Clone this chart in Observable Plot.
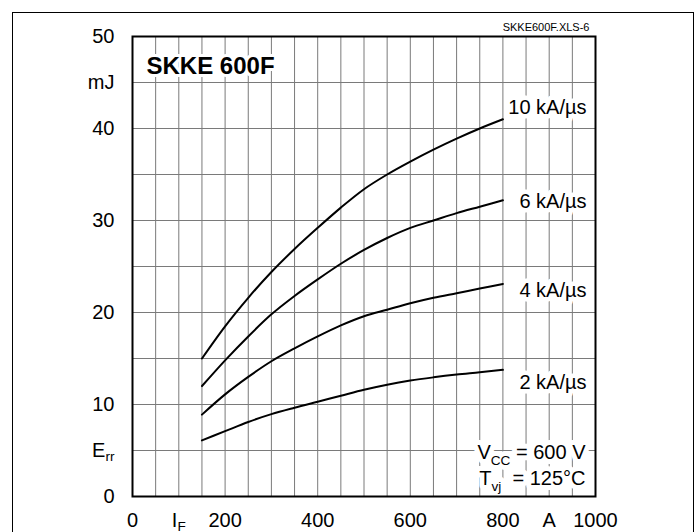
<!DOCTYPE html>
<html><head><meta charset="utf-8">
<script src="https://cdn.jsdelivr.net/npm/d3@7"></script>
<script src="https://cdn.jsdelivr.net/npm/@observablehq/plot@0.6"></script>
<style>
html,body{margin:0;padding:0;background:#fff;}
#wrap{position:relative;width:698px;height:532px;overflow:hidden;background:#fff;}
#border{position:absolute;left:12px;top:12px;width:680px;height:580px;border:1.5px solid #000;}
#chart{position:absolute;left:0;top:0;}
</style></head><body>
<div id="wrap"><div id="border"></div><div id="chart"></div></div>
<script>
// Forward current I_F (A)
const current = [150,200,250,300,350,400,450,500,550,600,650,700,750,800];
// Reverse recovery energy E_rr (mJ) per di/dt
const err10 = [15.0,18.5,21.6,24.4,26.9,29.2,31.4,33.4,35.0,36.4,37.7,38.9,40.0,41.0];
const err6  = [12.0,14.8,17.4,19.8,21.8,23.6,25.3,26.8,28.1,29.2,30.0,30.8,31.5,32.2];
const err4  = [8.9,11.1,13.0,14.7,16.1,17.4,18.6,19.6,20.3,21.0,21.6,22.1,22.6,23.1];
const err2  = [6.1,7.1,8.1,8.95,9.65,10.3,10.95,11.6,12.15,12.6,12.95,13.25,13.5,13.77];
const seriesNames = ["10 kA/µs","6 kA/µs","4 kA/µs","2 kA/µs"];
const labelY = [42.3,32.1,22.4,12.4];
const xTicks = [0,100,200,400,600,800,900,1000];
const xLabels = ["0","I_F","200","400","600","800","A","1000"];
const yTicks = [0,5,10,20,30,40,45,50];
const yLabels = ["0","E_rr","10","20","30","40","mJ","50"];
const title = "SKKE 600F";
const fileRef = "SKKE600F.XLS-6";
const conditions = ["V_CC = 600 V","T_vj  = 125°C"];

const allSeries = [err10, err6, err4, err2];
const rows = [];
allSeries.forEach((s, k) => s.forEach((v, i) => rows.push({name: seriesNames[k], x: current[i], y: v})));
const labels = seriesNames.map((n, i) => ({name: n, y: labelY[i]}));

const font = "'Liberation Sans', Arial, Helvetica, sans-serif";

const chart = Plot.plot({
  width: 698, height: 532,
  marginLeft: 132, marginRight: 103, marginTop: 36, marginBottom: 36,
  style: {fontFamily: font, background: "transparent", color: "#000", overflow: "visible"},
  x: {domain: [0, 1000]},
  y: {domain: [0, 50]},
  marks: [
    Plot.gridX(d3.range(50, 1000, 50), {stroke: "#7a7a7a", strokeOpacity: 1, strokeWidth: 1}),
    Plot.gridY(d3.range(5, 50, 5), {stroke: "#7a7a7a", strokeOpacity: 1, strokeWidth: 1}),
    Plot.axisX({ticks: xTicks, tickFormat: d => xLabels[xTicks.indexOf(d)], tickSize: 0, tickPadding: 16, fontSize: 20, label: null}),
    Plot.axisY({ticks: yTicks, tickFormat: d => yLabels[yTicks.indexOf(d)], tickSize: 0, tickPadding: 18, fontSize: 20, label: null}),
    Plot.line(rows, {x: "x", y: "y", z: "name", stroke: "#000", strokeWidth: 2, curve: "monotone-x"}),
    Plot.text(labels, {y: "y", text: "name", frameAnchor: "right", textAnchor: "end", dx: -9, fontSize: 20, fill: "#000", stroke: "#fff", strokeWidth: 9}),
    Plot.text([title], {text: d => d, frameAnchor: "top-left", textAnchor: "start", lineAnchor: "middle", dx: 14, dy: 30, fontSize: 24, fontWeight: "bold", fill: "#000", stroke: "#fff", strokeWidth: 6}),
    Plot.text([fileRef], {text: d => d, frameAnchor: "top-right", textAnchor: "end", lineAnchor: "middle", dx: -6, dy: -9, fontSize: 11, fill: "#000"}),
    Plot.text([conditions[0]], {text: d => d, frameAnchor: "bottom-right", textAnchor: "end", lineAnchor: "middle", dx: -10, dy: -44, fontSize: 20, fill: "#000", stroke: "#fff", strokeWidth: 10}),
    Plot.text([conditions[1]], {text: d => d, frameAnchor: "bottom-right", textAnchor: "end", lineAnchor: "middle", dx: -10, dy: -18, fontSize: 20, fill: "#000", stroke: "#fff", strokeWidth: 10}),
    Plot.frame({stroke: "#000", strokeWidth: 2})
  ]
});
document.getElementById("chart").appendChild(chart);

// subscripts: "X_sub rest"
d3.select(chart).selectAll("text, tspan").each(function() {
  if (this.childElementCount) return;
  const t = this.textContent;
  const m = /^(.*?)_(\S+)(.*)$/.exec(t);
  if (!m) return;
  const fs = parseFloat(getComputedStyle(this).fontSize) || 20;
  const sub = fs * 0.68, shift = fs * (m[3] ? 0.28 : 0.2);
  const el = d3.select(this);
  el.text(null);
  el.append("tspan").text(m[1]);
  el.append("tspan").attr("font-size", sub).attr("dy", shift).text(m[2]);
  if (m[3]) el.append("tspan").attr("dy", -shift).attr("xml:space", "preserve").text(m[3].replace(/  /g, " \u00a0"));
});
</script>
</body></html>
